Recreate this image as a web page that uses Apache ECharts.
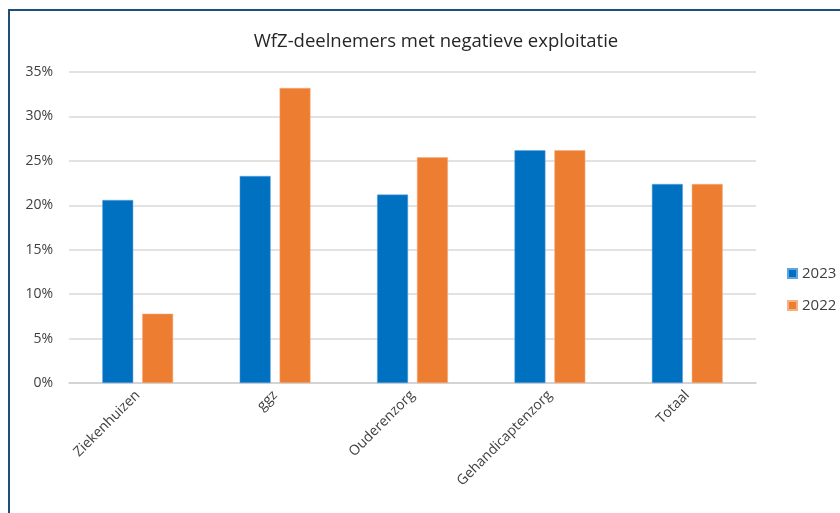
<!DOCTYPE html>
<html>
<head>
<meta charset="utf-8">
<script src="https://cdn.jsdelivr.net/npm/echarts@6/dist/echarts.min.js"></script>
<style>
  html, body { margin: 0; padding: 0; background: #fff; }
  #chart { width: 840px; height: 513px; }
</style>
</head>
<body>
<div id="chart"></div>
<script>
// WfZ-deelnemers met negatieve exploitatie
var categories = ["Ziekenhuizen", "ggz", "Ouderenzorg", "Gehandicaptenzorg", "Totaal"];
var values2023 = [20.6, 23.3, 21.2, 26.2, 22.4];
var values2022 = [7.8, 33.2, 25.4, 26.2, 22.4];
var yTicks = [0, 5, 10, 15, 20, 25, 30, 35];

var chart = echarts.init(document.getElementById("chart"));

var option = {
  animation: false,
  textStyle: { fontFamily: "Open Sans" },
  title: {
    text: "WfZ-deelnemers met negatieve exploitatie",
    left: 431,
    textAlign: "center",
    top: 27,
    textStyle: { fontSize: 18.5, fontWeight: "normal", color: "#262626", fontFamily: "Open Sans" }
  },
  legend: {
    orient: "vertical",
    left: 782,
    top: 261,
    itemWidth: 9,
    itemHeight: 9,
    itemGap: 17,
    icon: "rect",
    textStyle: { fontSize: 15, color: "#404040" },
    data: ["2023", "2022"]
  },
  grid: { left: 69, right: 84, top: 72, bottom: 130 },
  graphic: [{
    type: "rect",
    shape: { x: 9, y: 10, width: 900, height: 600 },
    style: { fill: "none", stroke: "#1F4E79", lineWidth: 2 },
    silent: true
  }],
  xAxis: {
    type: "category",
    data: categories,
    axisLine: { lineStyle: { color: "#d0d0d0", width: 1.5 } },
    axisTick: { show: false },
    axisLabel: { rotate: 45, color: "#404040", fontSize: 14, margin: 10 }
  },
  yAxis: {
    type: "value",
    min: yTicks[0],
    max: yTicks[yTicks.length - 1],
    interval: 5,
    axisLine: { show: false },
    axisTick: { show: false },
    splitLine: { lineStyle: { color: "#d9d9d9", width: 1.5 } },
    axisLabel: { color: "#404040", fontSize: 14, margin: 16, formatter: "{value}%" }
  },
  series: [
    {
      name: "2023",
      type: "bar",
      data: values2023,
      barWidth: "22.5%",
      barGap: "29%",
      itemStyle: { color: "#0070C0", borderColor: "#5fa3e0", borderWidth: 0.5 }
    },
    {
      name: "2022",
      type: "bar",
      data: values2022,
      barWidth: "22.5%",
      itemStyle: { color: "#ED7D31", borderColor: "#f4b183", borderWidth: 0.5 }
    }
  ]
};

chart.setOption(option);
</script>
</body>
</html>
